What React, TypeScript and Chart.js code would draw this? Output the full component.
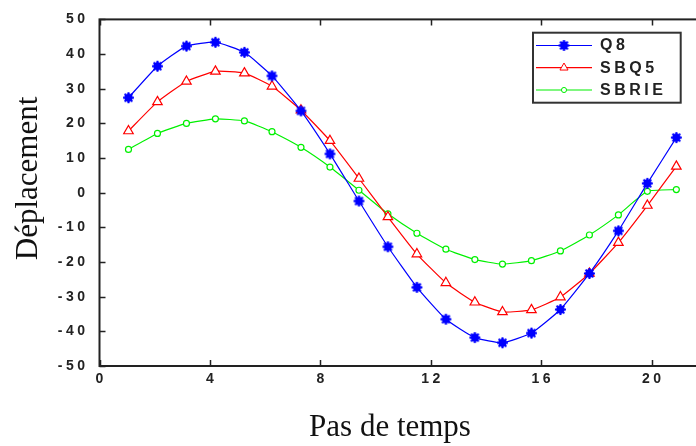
import React, { useEffect, useRef } from 'react';
import { Chart, registerables } from 'chart.js';

Chart.register(...registerables);

// Data
const timeSteps = [1.05, 2.1, 3.15, 4.2, 5.25, 6.25, 7.3, 8.35, 9.4, 10.45, 11.5, 12.55, 13.6, 14.6, 15.65, 16.7, 17.75, 18.8, 19.85, 20.9];
const q8 = [27.4, 36.5, 42.3, 43.4, 40.5, 33.7, 23.6, 11.2, -2.4, -15.6, -27.3, -36.5, -41.8, -43.3, -40.5, -33.7, -23.3, -11.0, 2.7, 15.9];
const sbq5 = [17.8, 26.2, 32.1, 35.0, 34.5, 30.7, 23.8, 15.0, 4.1, -7.0, -17.7, -26.0, -31.6, -34.4, -33.8, -30.1, -23.3, -14.4, -3.7, 7.6];
const sbrie = [12.5, 17.1, 20.0, 21.3, 20.7, 17.6, 13.1, 7.4, 0.7, -6.1, -11.7, -16.3, -19.3, -20.6, -19.6, -16.8, -12.2, -6.4, 0.4, 0.9];
const seriesLabels = ['Q8', 'SBQ5', 'SBRIE'];
const xTickValues = [0, 4, 8, 12, 16, 20];
const yTickValues = [-50, -40, -30, -20, -10, 0, 10, 20, 30, 40, 50];
const xTitle = 'Pas de temps';
const yTitle = 'Déplacement';

const BLUE = '#0000ff';
const RED = '#ff0000';
const GREEN = '#00f000';

function makeStar(color: string) {
  const c = document.createElement('canvas');
  c.width = 13;
  c.height = 13;
  const g = c.getContext('2d')!;
  g.fillStyle = color;
  g.strokeStyle = color;
  g.beginPath();
  g.arc(6.5, 6.5, 4.2, 0, Math.PI * 2);
  g.fill();
  g.lineWidth = 2;
  for (let k = 0; k < 4; k++) {
    const a = (k * Math.PI) / 4;
    g.beginPath();
    g.moveTo(6.5 + 5.5 * Math.cos(a), 6.5 + 5.5 * Math.sin(a));
    g.lineTo(6.5 - 5.5 * Math.cos(a), 6.5 - 5.5 * Math.sin(a));
    g.stroke();
  }
  return c;
}

function drawMarker(ctx: CanvasRenderingContext2D, ds: any, x: number, y: number, scale: number) {
  const style = ds.pointStyle;
  const r = ds.pointRadius * scale;
  ctx.save();
  ctx.lineWidth = 1;
  ctx.strokeStyle = ds.pointBorderColor;
  ctx.fillStyle = ds.pointBackgroundColor;
  if (style instanceof HTMLCanvasElement) {
    ctx.drawImage(style, x - style.width / 2, y - style.height / 2);
  } else if (style === 'triangle') {
    ctx.beginPath();
    ctx.moveTo(x, y - r);
    ctx.lineTo(x + r * Math.sin(Math.PI * 2 / 3), y - r * Math.cos(Math.PI * 2 / 3));
    ctx.lineTo(x + r * Math.sin(Math.PI * 4 / 3), y - r * Math.cos(Math.PI * 4 / 3));
    ctx.closePath();
    ctx.fill();
    ctx.stroke();
  } else {
    ctx.beginPath();
    ctx.arc(x, y, r, 0, Math.PI * 2);
    ctx.fill();
    ctx.stroke();
  }
  ctx.restore();
}

const decorPlugin = {
  id: 'decor',
  beforeDraw(chart: any) {
    (chart.ctx as any).letterSpacing = '3.5px';
  },
  afterDraw(chart: any) {
    const ctx: CanvasRenderingContext2D = chart.ctx;
    const { left, right, top, bottom } = chart.chartArea;
    const xs = chart.scales.x;
    const ys = chart.scales.y;
    ctx.save();
    (ctx as any).letterSpacing = '0px';
    // frame
    ctx.strokeStyle = '#222';
    ctx.lineWidth = 2;
    ctx.strokeRect(left, top, right - left, bottom - top);
    // inward tick marks
    ctx.beginPath();
    xTickValues.forEach((v) => {
      const px = Math.round(xs.getPixelForValue(v)) + 0.5;
      ctx.moveTo(px, bottom);
      ctx.lineTo(px, bottom - 6);
      ctx.moveTo(px, top);
      ctx.lineTo(px, top + 6);
    });
    yTickValues.forEach((v) => {
      const py = Math.round(ys.getPixelForValue(v)) + 0.5;
      ctx.moveTo(left, py);
      ctx.lineTo(left + 6, py);
      ctx.moveTo(right, py);
      ctx.lineTo(right - 6, py);
    });
    ctx.lineWidth = 1.5;
    ctx.stroke();

    // axis titles
    ctx.fillStyle = '#111';
    ctx.font = '31px "Liberation Serif"';
    ctx.textAlign = 'center';
    ctx.textBaseline = 'alphabetic';
    ctx.fillText(xTitle, 390, 436);
    ctx.save();
    ctx.translate(37, 178.5);
    ctx.rotate(-Math.PI / 2);
    ctx.fillText(yTitle, 0, 0);
    ctx.restore();

    // legend
    const bx = 533, by = 32.7, bw = 147.7, bh = 70;
    ctx.fillStyle = '#fff';
    ctx.fillRect(bx, by, bw, bh);
    ctx.strokeStyle = '#333';
    ctx.lineWidth = 2;
    ctx.strokeRect(bx, by, bw, bh);
    const rows = [45.5, 67.7, 90];
    chart.data.datasets.forEach((ds: any, i: number) => {
      const y = rows[i];
      ctx.strokeStyle = ds.borderColor;
      ctx.lineWidth = 1.2;
      ctx.beginPath();
      ctx.moveTo(536, y);
      ctx.lineTo(592, y);
      ctx.stroke();
      drawMarker(ctx, ds, 564, y, 0.85);
      ctx.fillStyle = '#222';
      ctx.font = 'bold 16px "Liberation Sans"';
      (ctx as any).letterSpacing = '3.5px';
      ctx.textAlign = 'left';
      ctx.textBaseline = 'middle';
      ctx.fillText(ds.label, 600, y + 0.5);
      (ctx as any).letterSpacing = '0px';
    });
    ctx.restore();
  },
};

export default function App() {
  const ref = useRef<HTMLCanvasElement>(null);
  useEffect(() => {
    const star = makeStar(BLUE);
    const mk = (arr: number[]) => arr.map((v, i) => ({ x: timeSteps[i], y: v }));
    const tickFont = { family: '"Liberation Sans"', size: 14, weight: 'bold' as const };
    const chart = new Chart(ref.current!, {
      type: 'line',
      data: {
        datasets: [
          {
            label: seriesLabels[0],
            data: mk(q8),
            borderColor: BLUE,
            backgroundColor: BLUE,
            borderWidth: 1.2,
            pointStyle: star as any,
            pointRadius: 5,
            pointBorderColor: BLUE,
            pointBackgroundColor: BLUE,
            tension: 0.15,
          },
          {
            label: seriesLabels[1],
            data: mk(sbq5),
            borderColor: RED,
            backgroundColor: RED,
            borderWidth: 1.2,
            pointStyle: 'triangle',
            pointRadius: 5.5,
            pointBorderWidth: 1.2,
            pointBorderColor: RED,
            pointBackgroundColor: '#ffffff',
            tension: 0.15,
          },
          {
            label: seriesLabels[2],
            data: mk(sbrie),
            borderColor: GREEN,
            backgroundColor: GREEN,
            borderWidth: 1.2,
            pointStyle: 'circle',
            pointRadius: 3,
            pointBorderWidth: 1.2,
            pointBorderColor: GREEN,
            pointBackgroundColor: '#ffffff',
            tension: 0.15,
          },
        ],
      },
      options: {
        animation: false,
        responsive: false,
        devicePixelRatio: 1,
        events: [],
        layout: { padding: { left: 0, top: 16.7, right: 13.3, bottom: 0 } },
        plugins: { legend: { display: false }, tooltip: { enabled: false }, title: { display: false } },
        scales: {
          x: {
            type: 'linear',
            min: 0,
            max: 22,
            grid: { display: false, drawTicks: false },
            border: { display: false },
            ticks: {
              stepSize: 4,
              includeBounds: false,
              font: tickFont,
              color: '#222',
              padding: 5,
              labelOffset: 1.75,
              maxRotation: 0,
            },
            afterFit: (s: any) => { s.height = 80; },
          },
          y: {
            type: 'linear',
            min: -50,
            max: 50,
            grid: { display: false, drawTicks: false },
            border: { display: false },
            ticks: { stepSize: 10, font: tickFont, color: '#222', padding: 11 },
            afterFit: (s: any) => { s.width = 99.5; },
          },
        },
      },
      plugins: [decorPlugin],
    });
    return () => chart.destroy();
  }, []);
  return (
    <div style={{ position: 'fixed', left: 0, top: 0, width: 696, height: 446, overflow: 'hidden', background: '#fff' }}>
      <canvas ref={ref} width={720} height={446} style={{ display: 'block' }} />
    </div>
  );
}
